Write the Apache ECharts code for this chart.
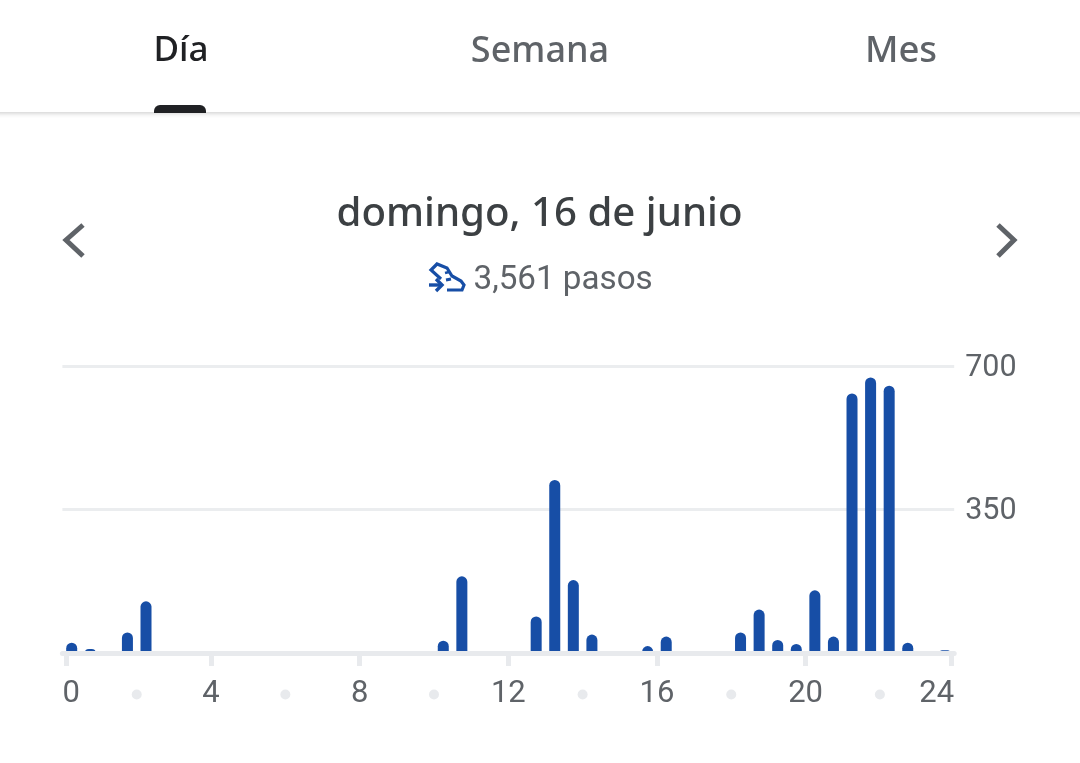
<!DOCTYPE html>
<html><head><meta charset="utf-8">
<style>html,body{margin:0;padding:0;background:#fff}#c{width:1080px;height:763px}</style>
<script src="https://cdn.jsdelivr.net/npm/echarts@6/dist/echarts.min.js"></script>
</head><body><div id="c"></div>
<script>
const tabs = ['Día', 'Semana', 'Mes'];
const dayTitle = 'domingo, 16 de junio';
const stepsText = '3,561 pasos';
const yTicks = [350, 700];
const xTickHours = [0.1, 4, 8, 12, 16, 20, 23.92];
const binHours = [0.25,0.75,1.75,2.25,10.25,10.75,12.75,13.25,13.75,14.25,15.75,16.25,18.25,18.75,19.25,19.75,20.25,20.75,21.25,21.75,22.25,22.75,23.75];
const steps =    [25,10,50,126,30,187,89,422,178,45,17,40,50,106,32,22,153,40,633,672,652,25,7];

const chart = echarts.init(document.getElementById('c'), null, {renderer:'canvas'});
const txt = (text, x, y, size, color, weight, family) => ({type:'text', x, y, style:{text, fill:color, font:`${weight} ${size}px ${family}`, textAlign:'center', textVerticalAlign:'middle'}});
const HEAD = '"Noto Sans"';
const shoe = (pts, w) => ({type:'polyline', shape:{points:pts}, style:{stroke:'#174ea6', lineWidth:w || 3, fill:null}});
chart.setOption({
  animation:false,
  backgroundColor:'#fff',
  grid:{left:62.4, right:125.8, top:366, bottom:110, containLabel:false},
  xAxis:{type:'value', min:0, max:24, interval:2, z:5,
    axisLine:{show:true, onZero:false, lineStyle:{color:'#e8eaed', width:5}},
    axisTick:{show:true, length:13, customValues:xTickHours, lineStyle:{color:'#e8eaed', width:5}},
    splitLine:{show:false},
    axisLabel:{color:'#5f6368', fontFamily:'Roboto', fontSize:31, margin:41.5, verticalAlign:'middle',
      alignMinLabel:'left', alignMaxLabel:'right',
      showMinLabel:true, showMaxLabel:true, hideOverlap:false,
      formatter:v => v % 4 === 0 ? String(v) : '{d| }',
      rich:{d:{width:10, height:10, borderRadius:5, backgroundColor:'#e8eaed'}}}
  },
  yAxis:{type:'value', position:'right', min:0, max:700, interval:350,
    axisLine:{show:false}, axisTick:{show:false},
    splitLine:{show:true, lineStyle:{color:'#ebedef', width:3}},
    axisLabel:{color:'#5f6368', fontFamily:'Roboto', fontSize:30.5, margin:11,
      formatter:v => yTicks.includes(v) ? '{n|' + v + '}' : '',
      rich:{n:{color:'#5f6368', fontFamily:'Roboto', fontSize:30.5, padding:[4,0,0,0]}}}
  },
  series:[{type:'bar', barWidth:11, data:binHours.map((h,i)=>[h,steps[i]]),
    itemStyle:{color:'#174ea6', borderRadius:[5.5,5.5,0,0]}, silent:true}],
  graphic:[
    {type:'rect', z:-1, shape:{x:-10,y:-10,width:1100,height:122}, style:{fill:'#fff', shadowColor:'rgba(0,0,0,0.22)', shadowBlur:5, shadowOffsetY:1}},
    {type:'rect', shape:{x:154,y:105,width:52,height:8,r:[6,6,0,0]}, style:{fill:'#202124'}},
    txt(tabs[0],181,51.5,35,'#202124',500,HEAD),
    txt(tabs[1],540,51.5,36,'#5f6368',500,HEAD),
    txt(tabs[2],901,51.5,36.5,'#5f6368',500,HEAD),
    txt(dayTitle,539.5,215,40.2,'#3c4043',500,HEAD),
    {type:'text', x:473.5, y:281, style:{text:stepsText, fill:'#5f6368', font:'400 33.2px Roboto', textAlign:'left', textVerticalAlign:'middle'}},
    {type:'polyline', shape:{points:[[83,225],[66,240],[83,256]]}, style:{stroke:'#5f6368', lineWidth:5, fill:null}},
    {type:'polyline', shape:{points:[[998,225],[1014,240],[998,256]]}, style:{stroke:'#5f6368', lineWidth:5, fill:null}},
    shoe([[441,279],[431,270],[437,264],[447,268],[452,276],[461,281],[464,285],[462,290],[447,290]], 3.2),
    shoe([[429,285],[441,285]], 3.4),
    shoe([[436,279],[442,285],[436,291]], 3.4),
    shoe([[446,280],[451,279]], 3),
    shoe([[445,273],[449,272]], 2.6)
  ]
});
</script></body></html>
